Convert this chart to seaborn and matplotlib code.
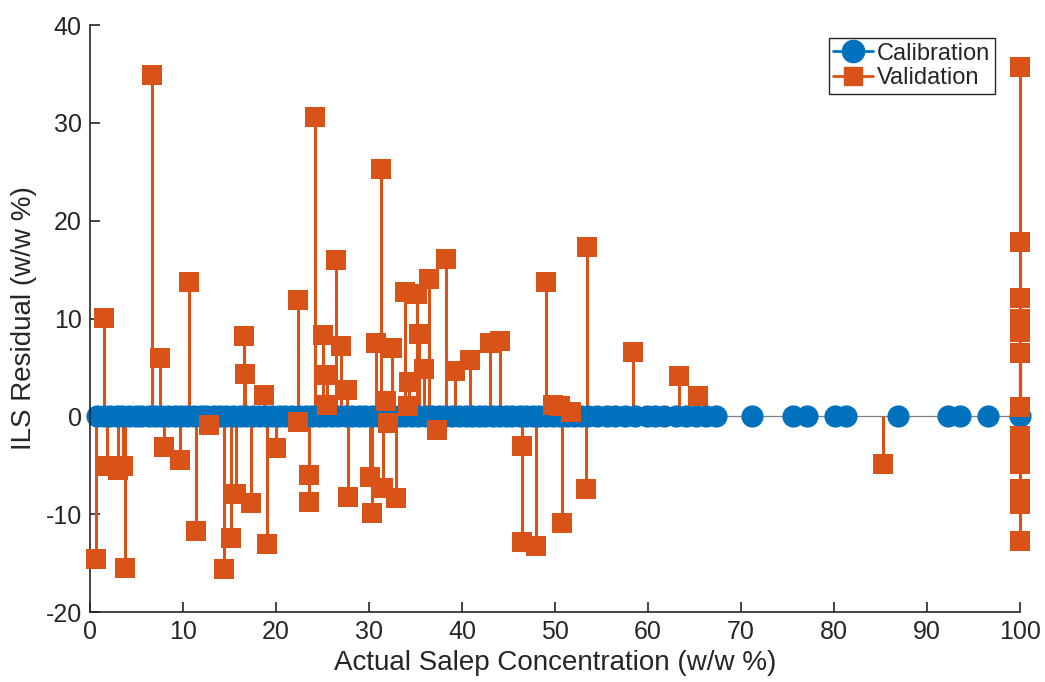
import matplotlib
matplotlib.use("Agg")
import matplotlib.pyplot as plt
from matplotlib.lines import Line2D
import seaborn as sns
import pandas as pd

# Calibration samples: residuals are zero at each reference concentration
calib_x = [0.8, 1.5, 2.1, 2.9, 3.4, 4.2, 4.9, 5.5, 6.3, 7.0, 7.6, 8.4, 9.1, 9.8,
           10.4, 11.2, 11.9, 12.5, 13.3, 14.0, 14.6, 15.4, 16.1, 16.8, 17.5, 18.2,
           18.9, 19.6, 20.3, 21.0, 21.7, 22.5, 23.2, 23.9, 24.6, 25.3, 26.0, 26.7,
           27.5, 28.2, 28.9, 29.6, 30.3, 31.0, 31.8, 32.5, 33.2, 33.9, 34.6, 35.3,
           36.1, 36.8, 37.5, 38.2, 38.9, 39.7, 40.4, 41.1, 41.8, 42.5, 43.3, 44.0,
           44.7, 45.4, 46.2, 46.9, 47.6, 48.3, 49.0, 49.8, 50.5, 51.3, 52.0, 52.8,
           53.6, 54.5, 55.6, 56.4, 57.5, 58.6, 59.9, 60.8, 61.7, 63.0, 64.1, 65.2,
           66.2, 67.3, 71.2, 75.6, 77.1, 80.1, 81.3, 86.9, 92.3, 93.5, 96.6, 100.0]
calib_res = [0.0] * len(calib_x)

# Validation samples
valid_x = [0.65, 1.5, 1.8, 3.0, 3.5, 3.8, 6.7, 7.5, 8.0, 9.7, 10.6, 11.4, 12.8,
           14.4, 15.2, 15.7, 16.6, 16.7, 17.3, 18.7, 19.0, 20.0, 22.4, 22.4, 23.5,
           23.5, 24.2, 25.1, 25.5, 25.5, 26.5, 27.0, 27.6, 27.7, 30.1, 30.3, 30.8,
           31.3, 31.5, 31.8, 32.0, 32.5, 32.9, 33.9, 34.3, 34.2, 35.2, 35.4, 35.9,
           36.5, 37.3, 38.3, 39.2, 40.9, 43.0, 44.1, 46.5, 46.5, 48.0, 49.0, 49.8,
           50.5, 50.8, 51.7, 53.4, 53.3, 58.4, 63.3, 65.4, 85.3,
           100, 100, 100, 100, 100, 100, 100, 100, 100, 100, 100, 100, 100, 100]
valid_res = [-14.6, 10.1, -5.1, -5.5, -5.1, -15.5, 34.9, 6.0, -3.1, -4.5, 13.7, -11.7, -0.9,
             -15.6, -12.4, -7.9, 8.2, 4.3, -8.9, 2.2, -13.0, -3.2, 11.9, -0.6, -6.0,
             -8.8, 30.6, 8.3, 4.2, 1.2, 16.0, 7.2, 2.7, -8.2, -6.2, -9.9, 7.5,
             25.3, -7.3, 1.6, -0.7, 7.0, -8.3, 12.7, 3.5, 1.1, 12.5, 8.4, 4.8,
             14.0, -1.4, 16.1, 4.6, 5.8, 7.5, 7.7, -3.0, -12.8, -13.3, 13.7, 1.2,
             1.1, -10.9, 0.4, 17.3, -7.4, 6.6, 4.1, 2.1, -4.9,
             35.7, 17.8, 12.1, 10.0, 9.3, 8.6, 6.5, 1.0, -2.0, -2.8, -4.9, -7.4, -9.0, -12.7]

x_ticks = [0, 10, 20, 30, 40, 50, 60, 70, 80, 90, 100]
y_ticks = [-20, -10, 0, 10, 20, 30, 40]

BLUE = "#0072BD"
ORANGE = "#D95319"
AXIS_COLOR = "#262626"

calib = pd.DataFrame({"conc": calib_x, "res": calib_res})
valid = pd.DataFrame({"conc": valid_x, "res": valid_res})

sns.set_theme(style="ticks")
plt.rcParams["font.family"] = ["Liberation Sans", "DejaVu Sans"]
plt.rcParams["axes.unicode_minus"] = False

fig = plt.figure(figsize=(10.45, 6.82), dpi=100)
ax = fig.add_axes([0.0861, 0.1026, 0.8900, 0.8607])

# stem baseline
ax.axhline(0, color="#7f7f7f", lw=0.9, zorder=0.5)

# validation stems
ax.vlines(valid["conc"], 0, valid["res"], color=ORANGE, lw=2.2, zorder=1,
          clip_on=False)

# calibration markers
sns.scatterplot(data=calib, x="conc", y="res", ax=ax, marker="o", s=255,
                color=BLUE, edgecolor=BLUE, linewidth=0, zorder=2,
                clip_on=False, legend=False)

# validation markers
sns.scatterplot(data=valid, x="conc", y="res", ax=ax, marker="s", s=205,
                color=ORANGE, edgecolor=ORANGE, linewidth=0, zorder=3,
                clip_on=False, legend=False)

ax.set_xlim(0, 100)
ax.set_ylim(-20, 40)
ax.set_xticks(x_ticks)
ax.set_yticks(y_ticks)
ax.set_xlabel("Actual Salep Concentration (w/w %)", fontsize=20, color=AXIS_COLOR,
              labelpad=4)
ax.set_ylabel("ILS Residual (w/w %)", fontsize=20, color=AXIS_COLOR, labelpad=6)

for side in ("top", "right"):
    ax.spines[side].set_visible(False)
for side in ("left", "bottom"):
    ax.spines[side].set_color(AXIS_COLOR)
    ax.spines[side].set_linewidth(1.2)
ax.tick_params(axis="both", direction="in", length=7, width=1.2,
               colors=AXIS_COLOR, labelsize=18, labelcolor=AXIS_COLOR, pad=6)

handles = [
    Line2D([0], [0], color=BLUE, lw=2, marker="o", markersize=16,
           markerfacecolor=BLUE, markeredgecolor=BLUE),
    Line2D([0], [0], color=ORANGE, lw=2, marker="s", markersize=13,
           markerfacecolor=ORANGE, markeredgecolor=ORANGE),
]
leg = ax.legend(handles, ["Calibration", "Validation"], loc="upper right",
                bbox_to_anchor=(0.973, 0.978), fontsize=17, frameon=True,
                fancybox=False, edgecolor="#262626", framealpha=1,
                handlelength=1.7, handletextpad=0.15, borderpad=0.2,
                labelspacing=0.12, borderaxespad=0)
leg.get_frame().set_linewidth(1.0)

fig.savefig("out.png", dpi=100)
